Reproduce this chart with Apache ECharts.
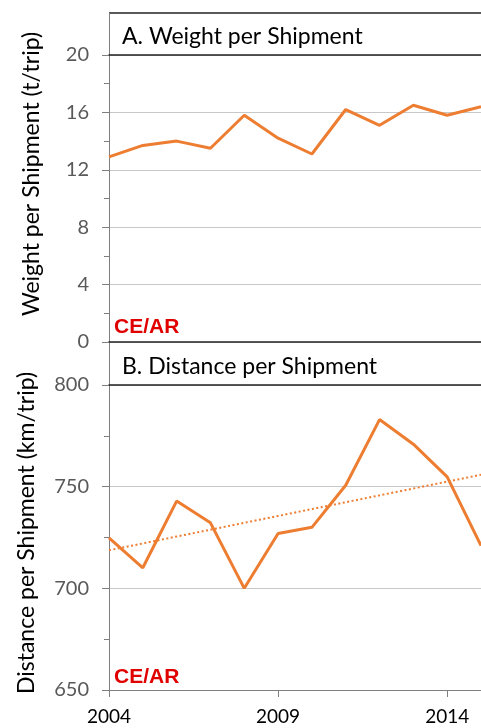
<!DOCTYPE html>
<html>
<head>
<meta charset="utf-8">
<script src="https://cdn.jsdelivr.net/npm/echarts@6/dist/echarts.min.js"></script>
<style>
  html, body { margin: 0; padding: 0; background: #fff; }
  #main { width: 481px; height: 728px; }
</style>
</head>
<body>
<div id="main"></div>
<script>
// years shown on the x axis (last one is cut at the right edge)
var years = ['2004', '2005', '2006', '2007', '2008', '2009', '2010', '2011', '2012', '2013', '2014', '2015'];
// A. weight per shipment, t/trip
var weight = [12.9, 13.7, 14.0, 13.5, 15.8, 14.2, 13.1, 16.2, 15.1, 16.5, 15.8, 16.4];
// B. distance per shipment, km/trip
var distance = [724.8, 710.1, 742.9, 732.2, 700.0, 727.0, 730.0, 750.7, 783.0, 770.9, 754.8, 721.0];
var weightTicks = [0, 20, 4];
var distanceTicks = [650, 800, 50];

// linear trend of distance (least squares), like the excel trendline
function trend(vals) {
  var n = vals.length, sx = 0, sy = 0, sxy = 0, sxx = 0;
  for (var i = 0; i < n; i++) {
    sx += i; sy += vals[i]; sxy += i * vals[i]; sxx += i * i;
  }
  var b = (n * sxy - sx * sy) / (n * sxx - sx * sx);
  var a = (sy - b * sx) / n;
  return vals.map(function (v, i) { return +(a + b * i).toFixed(2); });
}
var distanceTrend = trend(distance);

var orange = '#ED7D31';
var axisGray = '#7f7f7f';
var font = 'Lato, "Open Sans", sans-serif';
var every5 = function (i) { return i % 5 === 0; };

var chart = echarts.init(document.getElementById('main'));

function yAxis(grid, ticks) {
  return {
    type: 'value', gridIndex: grid,
    min: ticks[0], max: ticks[1], interval: ticks[2],
    axisLine: {show: true, lineStyle: {color: axisGray, width: 1}},
    axisTick: {show: true, length: 7, lineStyle: {color: axisGray}},
    minorTick: {show: true, splitNumber: 2, length: 5, lineStyle: {color: axisGray}},
    axisLabel: {color: '#595959', fontSize: 20, fontFamily: font, margin: 20},
    splitLine: {lineStyle: {color: '#c8c8c8', width: 1}}
  };
}

var option = {
  animation: false,
  title: [
    {text: 'A. Weight per Shipment', left: 117, top: 20,
      textStyle: {fontSize: 23, fontWeight: 'normal', color: '#000', fontFamily: font}},
    {text: 'B. Distance per Shipment', left: 117, top: 350,
      textStyle: {fontSize: 23, fontWeight: 'normal', color: '#000', fontFamily: font}}
  ],
  grid: [
    {left: 109, right: -3, top: 55, height: 287},
    {left: 109, right: -3, top: 385, height: 305}
  ],
  xAxis: [
    {type: 'category', gridIndex: 0, data: years, boundaryGap: false,
      axisLine: {lineStyle: {color: '#222', width: 1.5}},
      axisTick: {show: false}, axisLabel: {show: false}},
    {type: 'category', gridIndex: 0, data: years, boundaryGap: false, position: 'top',
      axisLine: {lineStyle: {color: '#222', width: 1.5}},
      axisTick: {show: false}, axisLabel: {show: false}},
    {type: 'category', gridIndex: 1, data: years, boundaryGap: false,
      axisLine: {lineStyle: {color: axisGray, width: 1}},
      axisTick: {show: true, length: 7, interval: every5, lineStyle: {color: axisGray}},
      axisLabel: {interval: every5, color: '#000', fontSize: 19, fontFamily: font, margin: 17}},
    {type: 'category', gridIndex: 1, data: years, boundaryGap: false, position: 'top',
      axisLine: {lineStyle: {color: '#222', width: 1.5}},
      axisTick: {show: false}, axisLabel: {show: false}}
  ],
  yAxis: [yAxis(0, weightTicks), yAxis(1, distanceTicks)],
  series: [
    {type: 'line', xAxisIndex: 0, yAxisIndex: 0, data: weight,
      symbol: 'none', lineStyle: {color: orange, width: 3}},
    {type: 'line', xAxisIndex: 2, yAxisIndex: 1, data: distance,
      symbol: 'none', lineStyle: {color: orange, width: 3}},
    {type: 'line', xAxisIndex: 2, yAxisIndex: 1, data: distanceTrend,
      symbol: 'none', lineStyle: {color: orange, width: 2, type: [2, 2.5]}}
  ],
  graphic: [
    // title strips: frame above each plot
    {type: 'line', shape: {x1: 109, y1: 13, x2: 481, y2: 13}, style: {stroke: '#222', lineWidth: 1.5}},
    {type: 'line', shape: {x1: 109.5, y1: 13, x2: 109.5, y2: 55}, style: {stroke: axisGray, lineWidth: 1}},
    {type: 'line', shape: {x1: 109.5, y1: 342, x2: 109.5, y2: 385}, style: {stroke: axisGray, lineWidth: 1}},
    // axis names
    {type: 'text', x: 32, y: 174, rotation: Math.PI / 2,
      style: {text: 'Weight per Shipment (t/trip)', font: '23px ' + font, fill: '#000',
        textAlign: 'center', textVerticalAlign: 'middle'}},
    {type: 'text', x: 27, y: 533, rotation: Math.PI / 2,
      style: {text: 'Distance per Shipment (km/trip)', font: '23px ' + font, fill: '#000',
        textAlign: 'center', textVerticalAlign: 'middle'}},
    // logos
    {type: 'text', x: 114, y: 327,
      style: {text: 'CE/AR', font: 'bold 21px "Liberation Sans", Arial, sans-serif', fill: '#e00000',
        textVerticalAlign: 'middle'}},
    {type: 'text', x: 114, y: 677,
      style: {text: 'CE/AR', font: 'bold 21px "Liberation Sans", Arial, sans-serif', fill: '#e00000',
        textVerticalAlign: 'middle'}}
  ]
};

chart.setOption(option);
</script>
</body>
</html>
